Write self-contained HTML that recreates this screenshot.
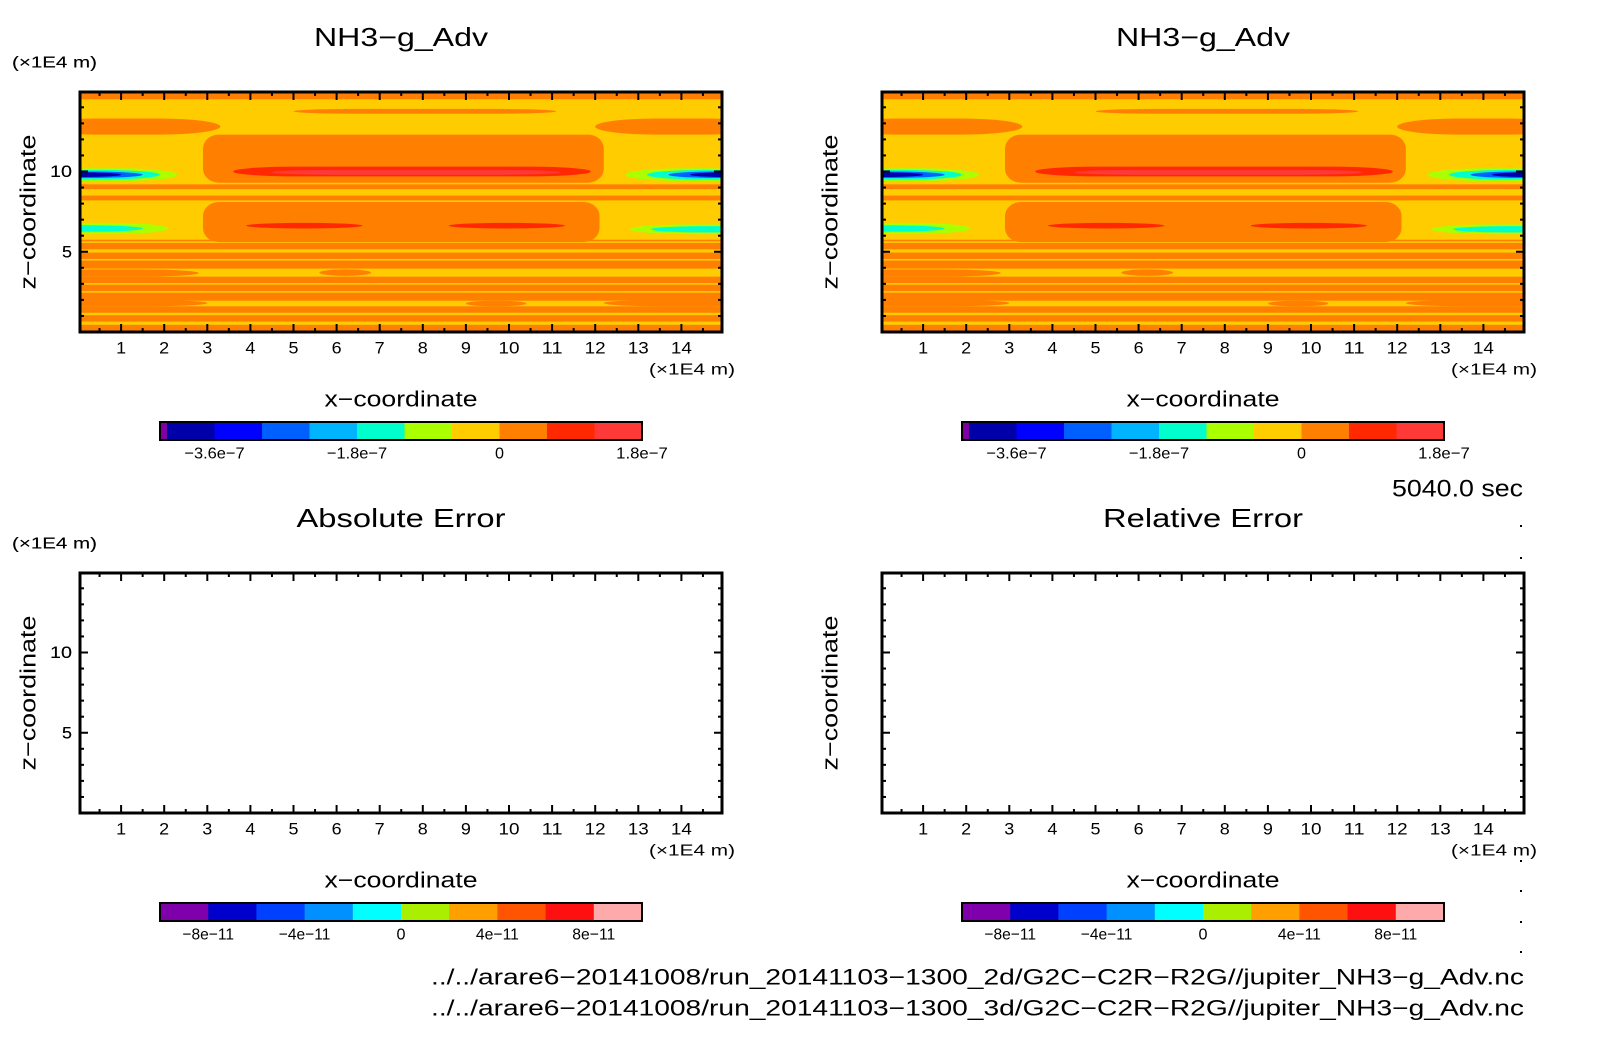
<!DOCTYPE html>
<html><head><meta charset="utf-8"><style>
html,body{margin:0;padding:0;background:#fff;}
svg{display:block;font-family:"Liberation Sans",sans-serif;}
</style></head><body>
<svg id="c" width="1604" height="1054" xmlns="http://www.w3.org/2000/svg"></svg>
<script>
// ---- data ----
const xTickLabels = [1,2,3,4,5,6,7,8,9,10,11,12,13,14];
const zTickLabels = [5,10];
const fieldColors = ["#ffcc00","#ff8000","#ff2800","#ff3838","#aaff00","#00ffcc","#0060ff","#0000a8"];
// contour regions (data units: x 1E4 m, z 1E4 m); level = index into fieldColors
const regX0 = [-1,-1,12.0,5.0,2.9,3.6,4.5,-1,-1,2.9,3.9,8.6,-1,-1,-1,-1,-1,-1,-1,-1,-1,-1,-1,5.6,9.0,-1,12.2,-1,-1,-1,-1,12.7,13.2,13.7,14.2,-1,-1,12.8,13.3];
const regX1 = [16,3.3,16,11.1,12.2,11.9,11.2,16,16,12.1,6.6,11.3,16,16,16,16,16,16,16,16,16,16,2.8,6.8,10.4,3.0,16,2.3,1.9,1.5,1.0,16,16,16,16,2.1,1.5,16,16];
const regZ0 = [14.5,12.3,12.3,13.6,9.3,9.7,9.8,8.9,8.2,5.6,6.45,6.45,5.15,4.55,3.95,3.05,2.55,1.95,1.2,0.65,0.05,5.65,3.45,3.5,1.6,1.6,1.6,9.4,9.5,9.6,9.65,9.4,9.5,9.6,9.65,6.1,6.25,6.1,6.2];
const regZ1 = [14.9,13.3,13.3,13.9,12.3,10.3,10.1,9.2,8.5,8.1,6.8,6.8,5.55,4.95,4.45,3.45,2.95,2.45,1.6,1.05,0.45,5.75,3.9,3.9,1.95,2.0,2.0,10.2,10.1,10.0,9.95,10.2,10.1,10.0,9.95,6.8,6.65,6.7,6.6];
const regLevel = [1,1,1,1,1,2,3,1,1,1,2,2,1,1,1,1,1,1,1,1,1,1,1,1,1,1,1,4,5,6,7,4,5,6,7,4,5,4,5];
const regRound = [0,1,1,1,2,1,1,0,0,2,1,1,0,0,0,0,0,0,0,0,0,0,1,1,1,1,1,1,1,1,1,1,1,1,1,1,1,1,1];
const cbTopColors = ["#0000a8","#0000ff","#0060ff","#00b4ff","#00ffcc","#aaff00","#ffcc00","#ff8000","#ff2800","#ff3838"];
const cbTopLabels = ["\u22123.6e\u22127","\u22121.8e\u22127","0","1.8e\u22127"];
const cbTopLabelIdx = [1,4,7,10];
const cbBotColors = ["#7f00aa","#0000cc","#0040ff","#0090ff","#00ffff","#aaee00","#ffa000","#ff5500","#ff1010","#ffaaaa"];
const cbBotLabels = ["\u22128e\u221211","\u22124e\u221211","0","4e\u221211","8e\u221211"];
const cbBotLabelIdx = [1,3,5,7,9];

const NS="http://www.w3.org/2000/svg";
const svg=document.getElementById('c');
function mk(tag,attrs,parent){const e=document.createElementNS(NS,tag);for(const k in attrs)e.setAttribute(k,attrs[k]);(parent||svg).appendChild(e);return e;}
function txt(s,x,y,size,anchor,parent,len){const t=mk('text',{x:x,y:y,'font-size':size,'text-anchor':anchor||'middle','dominant-baseline':'central',fill:'#000'},parent);
  if(len){t.setAttribute('textLength',len);t.setAttribute('lengthAdjust','spacingAndGlyphs');}
  t.textContent=s;return t;}
function cbLen(s){return s==="0"?9:s.length*8.6;}

function panel(ox,oy,title,titleLen,filled,cbColors,cbLabels,cbIdx,purpleTip){
  const W=642,H=240,L=ox,T=oy;
  const xs=v=>L-2+v*43.1, zs=v=>T+H-v*16.05;
  const g=mk('g',{});
  
  
  const tt=txt(title,L+321,oy-55,26,'middle',g,titleLen);
  
  const u=txt("(\u00d71E4 m)",12,oy-29,16,'start',g,85);
  
  const clipId='clip'+ox+'_'+oy;
  const cp=mk('clipPath',{id:clipId},g);mk('rect',{x:L,y:T,width:W,height:H},cp);
  const fg=mk('g',{'clip-path':'url(#'+clipId+')'},g);
  
  
  if(filled){
    mk('rect',{x:L,y:T,width:W,height:H,fill:fieldColors[0]},fg);
    for(let i=0;i<regX0.length;i++){
      const x0=xs(regX0[i]),x1=xs(regX1[i]),y0=zs(regZ1[i]),y1=zs(regZ0[i]);
      const w=x1-x0,h=y1-y0;
      const rnd=regRound[i];
      const r=mk('rect',{x:x0,y:y0,width:w,height:h,fill:fieldColors[regLevel[i]],
        rx:rnd===1?Math.min(w/2,60):(rnd===2?16:0),ry:rnd===1?h/2:(rnd===2?14:0)},fg);
      
      
    }
  }
  const fr=mk('rect',{x:L,y:T,width:W,height:H,fill:'none',stroke:'#000','stroke-width':3},g);
  
  for(let v=0.5;v<15;v+=0.5){
    const x=xs(v); if(x<=L+2||x>=L+W-2)continue;
    const len=(v%1===0)?8:4;
    mk('line',{x1:x,y1:T+H,x2:x,y2:T+H-len,stroke:'#000','stroke-width':2},g);
    mk('line',{x1:x,y1:T,x2:x,y2:T+len,stroke:'#000','stroke-width':2},g);
  }
  xTickLabels.forEach(v=>{const t=txt(String(v),xs(v),T+H+16,17,'middle',g,v>=10?21:10);
    });
  for(let v=1;v<15;v++){
    const y=zs(v);const len=(v%5===0)?8:4;
    mk('line',{x1:L,y1:y,x2:L+len,y2:y,stroke:'#000','stroke-width':2},g);
    mk('line',{x1:L+W,y1:y,x2:L+W-len,y2:y,stroke:'#000','stroke-width':2},g);
  }
  zTickLabels.forEach(v=>{const t=txt(String(v),72,zs(v),17,'end',g,v>=10?22:10);
    });
  const xl=txt("(\u00d71E4 m)",L+655,T+H+38,16,'end',g,86);
  
  const xt=txt("x\u2212coordinate",L+321,T+H+67,22,'middle',g,153);
  
  const zt=txt("z\u2212coordinate",0,0,22,'middle',g,155);
  zt.setAttribute('transform','translate('+(ox-52)+','+(T+120)+') rotate(-90)');
  
  const cx0=L+80,cx1=L+562,cy=T+H+90,ch=18;
  const cb=mk('g',{},g);
  
  let sx=cx0;
  if(purpleTip){mk('rect',{x:cx0,y:cy,width:7,height:ch,fill:'#7f00a0'},cb);sx=cx0+7;}
  const sw=(cx1-sx)/cbColors.length;
  cbColors.forEach((c,i)=>{const r=mk('rect',{x:sx+i*sw,y:cy,width:sw+0.5,height:ch,fill:c},cb);
    });
  mk('rect',{x:cx0,y:cy,width:cx1-cx0,height:ch,fill:'none',stroke:'#000','stroke-width':2},cb);
  cbLabels.forEach((s,i)=>{const t=txt(s,sx+cbIdx[i]*sw,cy+32,16,'middle',cb,cbLen(s));
    });
}
panel(80,92,"NH3\u2212g_Adv",174,true,cbTopColors,cbTopLabels,cbTopLabelIdx,true);
panel(882,92,"NH3\u2212g_Adv",174,true,cbTopColors,cbTopLabels,cbTopLabelIdx,true);
panel(80,573,"Absolute Error",209,false,cbBotColors,cbBotLabels,cbBotLabelIdx,false);
panel(882,573,"Relative Error",200,false,cbBotColors,cbBotLabels,cbBotLabelIdx,false);

const tm=txt("5040.0 sec",1523,489,24,'end',svg,131);

const p1=txt("../../arare6\u221220141008/run_20141103\u22121300_2d/G2C\u2212C2R\u2212R2G//jupiter_NH3\u2212g_Adv.nc",1524,977,22,'end',svg,1093);

const p2=txt("../../arare6\u221220141008/run_20141103\u22121300_3d/G2C\u2212C2R\u2212R2G//jupiter_NH3\u2212g_Adv.nc",1524,1008,22,'end',svg,1093);

[525,557,860,890,921,951].forEach(y=>{const d=mk('rect',{x:1520,y:y,width:2,height:2,fill:'#000'});
  });
</script>
</body></html>
